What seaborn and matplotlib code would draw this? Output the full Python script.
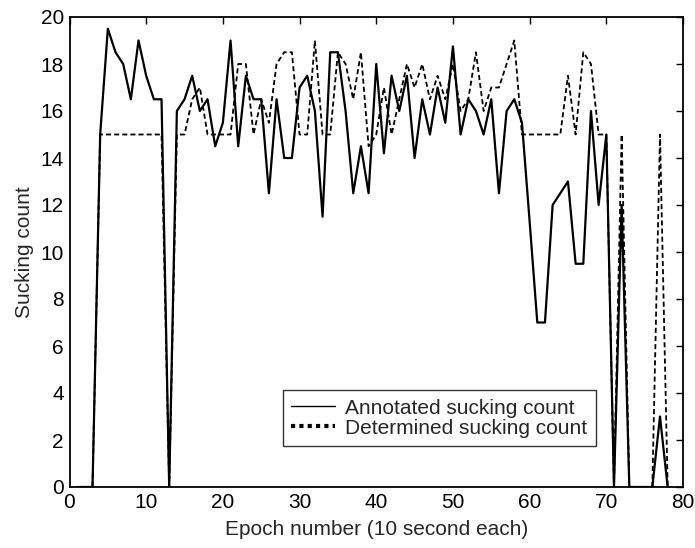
import matplotlib
matplotlib.use("Agg")
import matplotlib.pyplot as plt
import seaborn as sns
import pandas as pd
from matplotlib.lines import Line2D

# ---- data ----
epochs = list(range(1, 79))
annotated = [0, 0, 0, 15, 19.5, 18.5, 18, 16.5, 19, 17.5,
             16.5, 16.5, 0, 16, 16.5, 17.5, 16, 16.5, 14.5, 15.5,
             19, 14.5, 17.5, 16.5, 16.5, 12.5, 16.5, 14, 14, 17,
             17.5, 16, 11.5, 18.5, 18.5, 16, 12.5, 14.5, 12.5, 18,
             14.2, 17.5, 16, 17.5, 14, 16.5, 15, 17, 15.5, 18.75,
             15, 16.5, 16, 15, 16.5, 12.5, 16, 16.5, 15.5, 11.3,
             7, 7, 12, 12.5, 13, 9.5, 9.5, 16, 12, 15,
             0, 12, 0, 0, 0, 0, 3, 0]
determined = [0, 0, 0, 15, 15, 15, 15, 15, 15, 15,
              15, 15, 0, 15, 15, 16.5, 17, 15, 15, 15,
              15, 18, 18, 15, 16.5, 15.5, 18, 18.5, 18.5, 15,
              15, 19, 15, 15, 18.5, 18, 16.5, 18.5, 14.5, 15,
              17, 15, 16.5, 18, 17, 18, 16.5, 17.5, 16.5, 18,
              16, 16.5, 18.5, 16, 17, 17, 18, 19, 15, 15,
              15, 15, 15, 15, 17.5, 15, 18.5, 18, 15, 15,
              0, 15, 0, 0, 0, 0, 15, 0]
series_labels = ["Annotated sucking count", "Determined sucking count"]
x_ticks = list(range(0, 81, 10))
y_ticks = list(range(0, 21, 2))

sns.set_style("white")
plt.rcParams['font.family'] = ['Liberation Sans', 'DejaVu Sans']

W, H = 695, 548
L, R, T, B = 69.5, 683, 17, 487
fig = plt.figure(figsize=(W / 100, H / 100), dpi=100)
ax = fig.add_axes([L / W, 1 - B / H, (R - L) / W, (B - T) / H])

df = pd.DataFrame({"epoch": epochs, "annotated": annotated, "determined": determined})
sns.lineplot(data=df, x="epoch", y="annotated", ax=ax, color="black", lw=1.6)
sns.lineplot(data=df, x="epoch", y="determined", ax=ax, color="black", lw=1.3,
             linestyle=(0, (2.8, 1.7)))

ax.set_xlim(0, 80)
ax.set_ylim(0, 20)
ax.set_xticks(x_ticks)
ax.set_yticks(y_ticks)
ax.tick_params(direction="in", length=5, width=1, top=True, right=True,
               labelsize=15, colors="black", pad=4)
for s in ax.spines.values():
    s.set_color("black")
    s.set_linewidth(1.3)

ax.set_xlabel("Epoch number (10 second each)", fontsize=15, labelpad=6)
ax.set_ylabel("Sucking count", fontsize=15, labelpad=5)

handles = [Line2D([], [], color="black", lw=1.0),
           Line2D([], [], color="black", lw=3, linestyle=(0, (1, 1)))]
leg = ax.legend(handles, series_labels, loc="lower left",
                bbox_to_anchor=(0.348, 0.087), fontsize=15, frameon=True,
                fancybox=False, handlelength=2.1, borderpad=0.4,
                labelspacing=0.05, handletextpad=0.5, borderaxespad=0)
leg.get_frame().set_edgecolor("black")
leg.get_frame().set_linewidth(1.0)

fig.savefig("out.png", dpi=100, facecolor="white")
